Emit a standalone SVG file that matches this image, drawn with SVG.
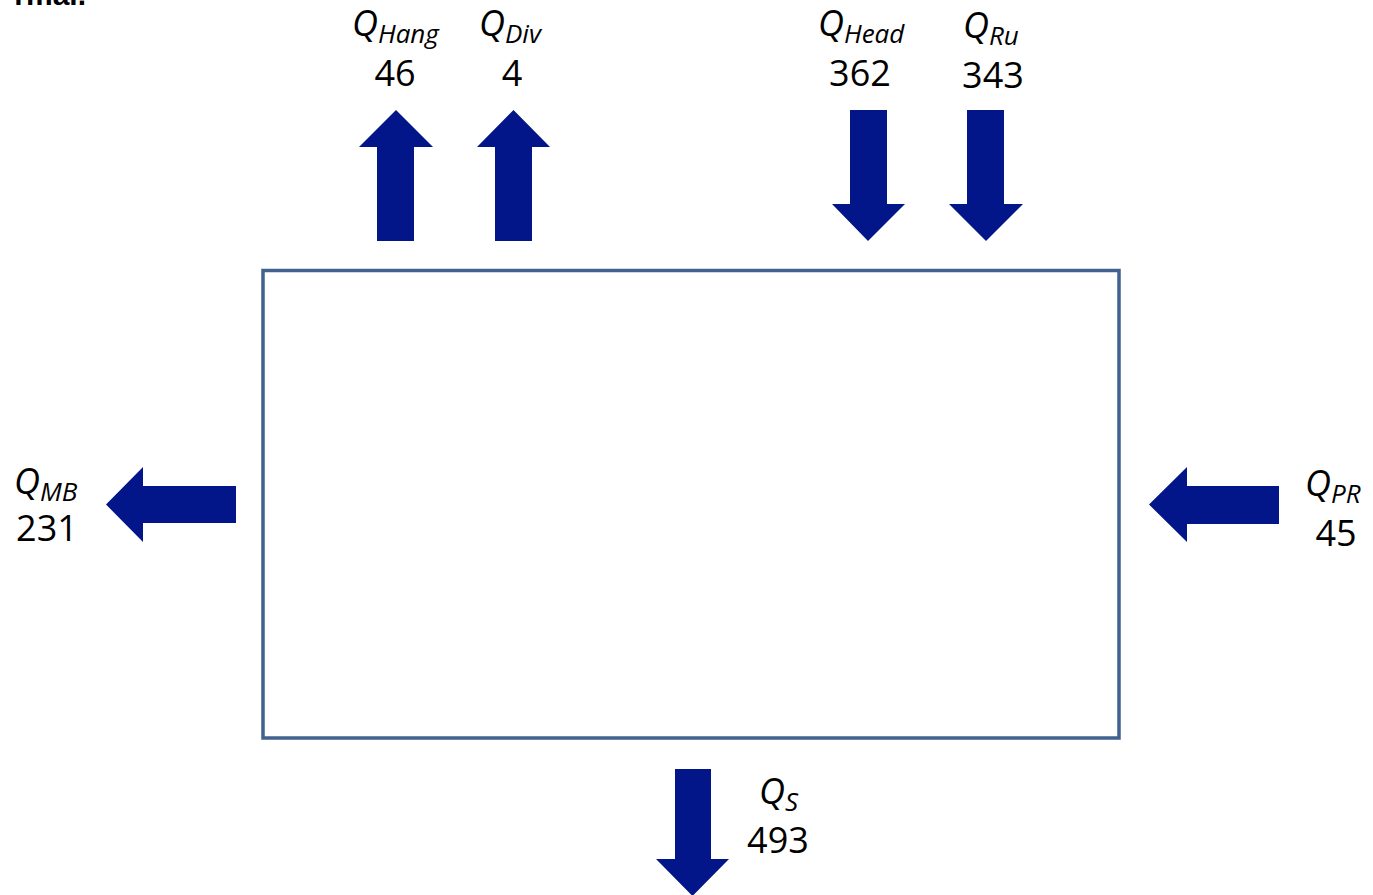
<svg xmlns="http://www.w3.org/2000/svg" width="1373" height="895" viewBox="0 0 1373 895">
<style>
.arrow{fill:#02168a;}
.box{fill:none;stroke:#41618e;stroke-width:3.5;}
.q{font-family:"Open Sans","Liberation Sans",sans-serif;font-style:italic;font-size:36px;fill:#000;}
.sub{font-size:26px;}
.num{font-family:"Open Sans","Liberation Sans",sans-serif;font-size:36px;fill:#000;text-anchor:middle;}
.title{font-family:"Liberation Sans",sans-serif;font-weight:bold;font-size:30px;fill:#000;text-anchor:end;}
</style>
<rect width="1373" height="895" fill="#fff"/>
<text class="title" x="86" y="5">rmal.</text>
<g id="system">
<rect class="box" x="263" y="270.5" width="856" height="467.5"/>
</g>
<g id="connectors">
<polygon id="arr-hang" class="arrow" points="396,110 433,147 414,147 414,241 377,241 377,147 359,147"/>
<polygon id="arr-div" class="arrow" points="513.5,110 550,147 532,147 532,241 495,241 495,147 477,147"/>
<polygon id="arr-head" class="arrow" points="850,110 887,110 887,204 905,204 868,241 832,204 850,204"/>
<polygon id="arr-ru" class="arrow" points="967,110 1004,110 1004,204 1023,204 986,241 949,204 967,204"/>
<polygon id="arr-mb" class="arrow" points="106,504.5 143,467 143,486 236,486 236,523 143,523 143,542"/>
<polygon id="arr-pr" class="arrow" points="1149,504.5 1187,467 1187,486 1279,486 1279,524 1187,524 1187,542"/>
<polygon id="arr-s" class="arrow" points="675,769 711,769 711,859 729,859 692.5,896 656,859 675,859"/>
</g>
<g id="label-hang"><text class="q" x="352" y="36">Q<tspan class="sub" dy="7">Hang</tspan></text><text class="num" x="395" y="86">46</text></g>
<g id="label-div"><text class="q" x="479" y="36">Q<tspan class="sub" dy="7">Div</tspan></text><text class="num" x="512" y="86">4</text></g>
<g id="label-head"><text class="q" x="818" y="36">Q<tspan class="sub" dy="7">Head</tspan></text><text class="num" x="860" y="86">362</text></g>
<g id="label-ru"><text class="q" x="963" y="38">Q<tspan class="sub" dy="7">Ru</tspan></text><text class="num" x="993" y="88">343</text></g>
<g id="label-mb"><text class="q" x="14" y="494">Q<tspan class="sub" dy="7">MB</tspan></text><text class="num" x="47" y="541">231</text></g>
<g id="label-pr"><text class="q" x="1305" y="496">Q<tspan class="sub" dy="7">PR</tspan></text><text class="num" x="1336" y="546">45</text></g>
<g id="label-s"><text class="q" x="759" y="804">Q<tspan class="sub" dy="7">S</tspan></text><text class="num" x="778" y="853">493</text></g>
</svg>
